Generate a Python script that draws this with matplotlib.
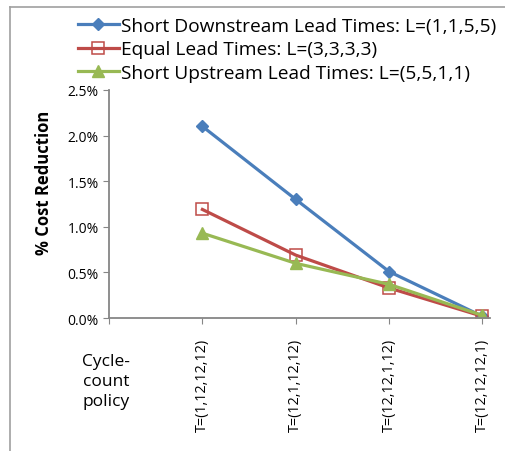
import numpy as np
import matplotlib
matplotlib.use('Agg')
from matplotlib import pyplot as plt
from matplotlib.lines import Line2D


# =============================================================================
# Data
# =============================================================================
policies = ['T=(1,12,12,12)', 'T=(12,1,12,12)', 'T=(12,12,1,12)',
    'T=(12,12,12,1)']
short_down = [2.10, 1.30, 0.51, 0.02]
equal = [1.19, 0.69, 0.33, 0.02]
short_up = [0.93, 0.60, 0.37, 0.03]
series_names = ['Short Downstream Lead Times: L=(1,1,5,5)',
    'Equal Lead Times: L=(3,3,3,3)',
    'Short Upstream Lead Times: L=(5,5,1,1)']


# =============================================================================
# Plot parameters
# =============================================================================
fontsize = 11
matplotlib.rcParams['font.family'] = ['Open Sans', 'DejaVu Sans']
matplotlib.rcParams['font.size'] = fontsize
blue = '#4A7EBB'
red = '#BE4B48'
green = '#98B954'
grey = '#868686'


# =============================================================================
# Plot
# =============================================================================
fig = plt.figure(figsize=(5.05, 4.52), dpi=100)
ax = fig.add_axes([0.216, 0.294, 0.754, 0.505])

x = np.arange(1, len(policies) + 1)
ax.plot(x, short_down, color=blue, linewidth=2.3, marker='D', markersize=6.5,
    label=series_names[0])
ax.plot(x, equal, color=red, linewidth=2.3, marker='s', markersize=9,
    markerfacecolor='none', markeredgewidth=1.1, label=series_names[1])
ax.plot(x, short_up, color=green, linewidth=2.3, marker='^', markersize=9,
    label=series_names[2])

# y-axis parameters
yticks = np.arange(0, 2.51, 0.5)
ax.set_yticks(yticks)
ax.set_yticklabels([f'{v:.1f}%' for v in yticks], fontsize=10)
ax.set_ylim(0, 2.5)
ax.set_ylabel('% Cost Reduction', fontsize=12, fontweight='bold')
ax.yaxis.set_label_coords(-0.146, 0.596)

# x-axis parameters
ax.set_xlim(0, 4.08)
ax.set_xticks(np.arange(0, 5))
ax.set_xticklabels([''] + policies, rotation=90, fontsize=10.4)
ax.tick_params(axis='x', pad=10, length=4, color=grey)
ax.tick_params(axis='y', length=4, color=grey)
for side in ['top', 'right']:
    ax.spines[side].set_visible(False)
for side in ['left', 'bottom']:
    ax.spines[side].set_color(grey)
    ax.spines[side].set_linewidth(1.3)

fig.text(0.21, 0.155, 'Cycle-\ncount\npolicy', fontsize=12.5, ha='center',
    va='center', linespacing=1.3)

# Legend
ax.legend(loc='upper left', bbox_to_anchor=(0.155, 0.96),
    bbox_transform=fig.transFigure, frameon=False, fontsize=13.8,
    handlelength=2.1, handletextpad=0.15, labelspacing=0.28, borderpad=0,
    borderaxespad=0)

# Chart frame
fig.add_artist(Line2D([0.02, 0.02], [0, 0.982], color='#A0A0A0',
    linewidth=1.2, transform=fig.transFigure))
fig.add_artist(Line2D([0.02, 1], [0.982, 0.982], color='#A0A0A0',
    linewidth=1.2, transform=fig.transFigure))

fig.savefig('out.png', dpi=100)
plt.close()
